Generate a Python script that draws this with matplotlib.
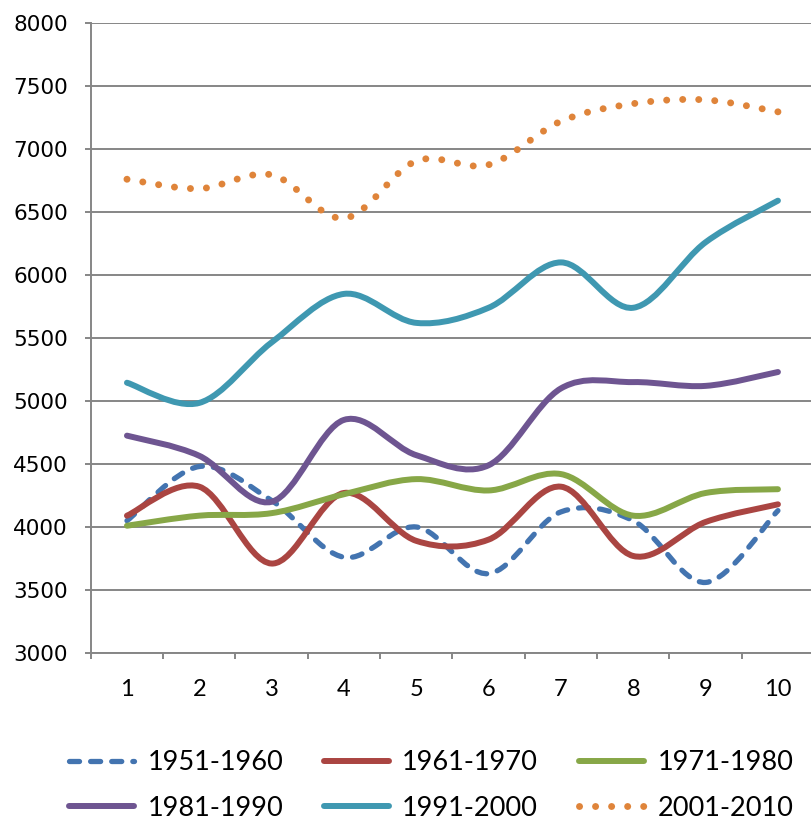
import matplotlib
matplotlib.use('Agg')
import matplotlib.pyplot as plt
import numpy as np
from matplotlib.path import Path
from matplotlib.patches import PathPatch
from matplotlib.lines import Line2D

# values
x = [1, 2, 3, 4, 5, 6, 7, 8, 9, 10]
s1951 = [4050, 4480, 4210, 3760, 4000, 3630, 4120, 4050, 3560, 4130]
s1961 = [4090, 4320, 3710, 4270, 3890, 3900, 4320, 3770, 4040, 4180]
s1971 = [4010, 4090, 4110, 4260, 4380, 4290, 4420, 4090, 4270, 4300]
s1981 = [4725, 4565, 4200, 4850, 4570, 4490, 5100, 5150, 5120, 5230]
s1991 = [5145, 4985, 5465, 5850, 5620, 5740, 6100, 5740, 6260, 6590]
s2001 = [6760, 6685, 6795, 6450, 6905, 6875, 7220, 7360, 7390, 7295]
labels = ['1951-1960', '1961-1970', '1971-1980', '1981-1990', '1991-2000', '2001-2010']

series = [s1951, s1961, s1971, s1981, s1991, s2001]
colors = ['#4374B0', '#AA4542', '#87A747', '#6E5591', '#3F98B1', '#DF843A']
widths = [3.8, 4.3, 4.3, 4.3, 4.3, 5.0]
styles = [(0, (1.9, 2.1)), '-', '-', '-', '-', (0, (0.01, 2.3))]


def smooth_path(xs, ys):
    # Excel-style smoothed line: cubic bezier through every point
    p = np.column_stack([xs, ys]).astype(float)
    n = len(p)
    verts = [p[0]]
    codes = [Path.MOVETO]
    for i in range(n - 1):
        prev = p[max(i - 1, 0)]
        nxt = p[min(i + 2, n - 1)]
        c1 = p[i] + (p[i + 1] - prev) / 6.0
        c2 = p[i + 1] - (nxt - p[i]) / 6.0
        verts += [c1, c2, p[i + 1]]
        codes += [Path.CURVE4] * 3
    return Path(verts, codes)


fig = plt.figure(figsize=(8.11, 8.19), dpi=100)
ax = fig.add_axes([90.8 / 811, (819 - 653) / 819, 723.3 / 811, 630 / 819])

grid_c = '#868686'
handles = []
for ys, c, lw, ls, lab in zip(series, colors, widths, styles, labels):
    patch = PathPatch(smooth_path(x, ys), fill=False, edgecolor=c, lw=lw,
                      linestyle=ls, capstyle='round', joinstyle='round')
    ax.add_patch(patch)
    handles.append(Line2D([], [], color=c, lw=lw, linestyle=ls,
                          dash_capstyle='round', solid_capstyle='round'))

ax.set_xlim(0.5, 10.5)
ax.set_ylim(3000, 8000)
ax.set_yticks(np.arange(3000, 8001, 500))
ax.set_xticks(x)
ax.set_xticks(np.arange(0.5, 10.6, 1), minor=True)
ax.yaxis.grid(True, color=grid_c, lw=1.4)
ax.set_axisbelow(True)

for side in ['top', 'right']:
    ax.spines[side].set_visible(False)
for side in ['left', 'bottom']:
    ax.spines[side].set_color(grid_c)
    ax.spines[side].set_linewidth(1.4)

ax.tick_params(axis='y', direction='out', length=4.5, width=1.4, color=grid_c,
               pad=12, labelsize=15.5, labelcolor='black')
ax.tick_params(axis='x', which='major', length=0, pad=19, labelsize=17)
ax.tick_params(axis='x', which='minor', direction='out', length=4.5, width=1.4, color=grid_c)
for t in ax.get_yticklabels():
    t.set_family('DejaVu Sans')
for t in ax.get_xticklabels():
    t.set_family('Lato')

# legend fills columns first, so reorder to read row by row
order = [0, 3, 1, 4, 2, 5]
leg = fig.legend([handles[i] for i in order], [labels[i] for i in order],
                 loc='center', bbox_to_anchor=(431 / 811, 0.041),
                 ncol=3, frameon=False, prop={'family': 'Lato', 'size': 19.5},
                 handlelength=2.4, handletextpad=0.5, columnspacing=1.5,
                 labelspacing=0.75)

fig.savefig('out.png', dpi=100)
